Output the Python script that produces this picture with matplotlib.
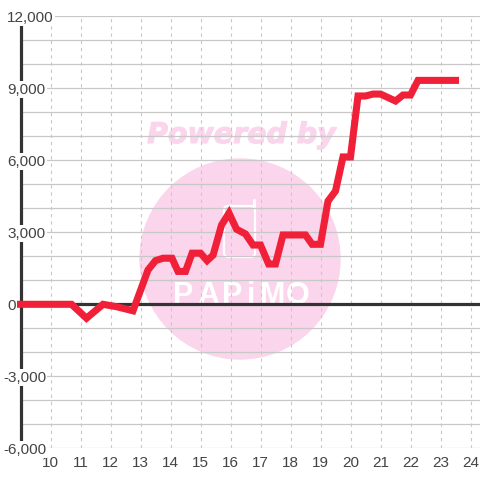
import matplotlib
matplotlib.use('Agg')
import matplotlib.pyplot as plt
import matplotlib.patheffects as pe
from matplotlib.patches import Circle, FancyBboxPatch

plt.rcParams['font.family'] = ['Liberation Sans', 'DejaVu Sans']

# ==================== data ====================
hours = [9, 9.5, 10, 10.7, 11.2, 11.75, 12.2, 12.75, 13.25, 13.5, 13.75, 14.05,
         14.25, 14.5, 14.72, 15, 15.22, 15.42, 15.7, 15.95, 16.2, 16.5, 16.75, 17,
         17.27, 17.5, 17.75, 18, 18.5, 18.72, 19, 19.25, 19.5, 19.75, 20, 20.25,
         20.5, 20.75, 21, 21.5, 21.75, 22, 22.25, 22.5, 23, 23.5]
values = [0, 0, 0, 0, -580, 0, -100, -270, 1430, 1820, 1920, 1920,
          1370, 1370, 2130, 2130, 1820, 2050, 3300, 3800, 3130, 2930, 2470, 2470,
          1680, 1680, 2890, 2890, 2890, 2500, 2500, 4300, 4720, 6140, 6140, 8680,
          8680, 8760, 8760, 8470, 8720, 8720, 9330, 9330, 9330, 9330]

y_ticks = [12000, 9000, 6000, 3000, 0, -3000, -6000]
y_minor = [11000, 10000, 8000, 7000, 5000, 4000, 2000, 1000, -1000, -2000, -4000, -5000]
x_ticks = [10, 11, 12, 13, 14, 15, 16, 17, 18, 19, 20, 21, 22, 23, 24]
logo_letters = ['P', 'A', 'P', 'i', 'M', 'O']

GRID = '#c8c8c8'
DARK = '#333333'
TEXT = '#444444'
RED = '#f02038'
PINK = '#fbd5ec'

W = 480
fig = plt.figure(figsize=(4.8, 4.8), dpi=100)
# plot area: x 20.5..480 px, y 16.3..448.3 px
ax = fig.add_axes([20.5 / W, (W - 448.3) / W, (W - 20.5) / W, 432 / W])
ax.set_xlim(9, 9 + (W - 20.5) / 30)
ax.set_ylim(-6000, 12000)
ax.axis('off')


def px(x, y):
    # image pixels -> data, only for the watermark and labels
    return 9 + (x - 20.5) / 30, (304.3 - y) * 3000 / 72


# ==================== watermark ====================
ax.add_patch(Circle((240, W - 259), 100, transform=None, color=PINK, zorder=0, clip_on=False))
tx, ty = px(241.5, 135)
ax.text(tx, ty, 'Powered by', fontsize=20.5, fontweight='bold', style='italic', color=PINK,
        ha='center', va='center', zorder=0.5, family=['DejaVu Sans'],
        path_effects=[pe.withStroke(linewidth=0.8, foreground=PINK)])
for letter, lx in zip(logo_letters, [183, 208, 232, 251, 273, 298]):
    a, b = px(lx, 304)
    ax.text(a, b, letter, fontsize=22, fontweight='bold', color='white', ha='center', va='baseline', zorder=0.6)
ax.add_patch(FancyBboxPatch((224, W - 257), 31, 51, boxstyle='round,pad=0,rounding_size=4',
                            transform=None, fill=False, ec='white', lw=1.6, zorder=0.6, clip_on=False))
ax.plot(*zip(px(254, 206), px(254, 200)), color='white', lw=2.2, solid_capstyle='round', zorder=0.6)

# ==================== grid ====================
ax.hlines(y_ticks + y_minor, 9, ax.get_xlim()[1], color=GRID, lw=0.9, zorder=1)
ax.vlines(x_ticks, -6000, 12000, color=GRID, lw=0.8, ls=(0, (3, 3.5)), zorder=1)
ax.vlines(9, -6000, 12000, color=DARK, lw=2.3, zorder=2, clip_on=False)
ax.hlines(0, 9, ax.get_xlim()[1], color=DARK, lw=2.3, zorder=2)

# ==================== line ====================
ax.plot(hours, values, color=RED, lw=5.1, solid_joinstyle='miter', solid_capstyle='projecting',
        zorder=3, clip_on=False)

# ==================== labels ====================
for v in y_ticks:
    lx = 7 if v >= 0 else 3
    a = 9 + (lx - 20.5) / 30
    ax.text(a, v - 5.5 * 3000 / 72, f'{v:,}', fontsize=11, color=TEXT, ha='left', va='baseline',
            zorder=4, clip_on=False, bbox=dict(facecolor='white', edgecolor='none', pad=1))
for t in x_ticks:
    ax.text(t, px(0, 467)[1], str(t), fontsize=11, color=TEXT, ha='center', va='baseline', clip_on=False)

fig.savefig('out.png', dpi=100, facecolor='white')
